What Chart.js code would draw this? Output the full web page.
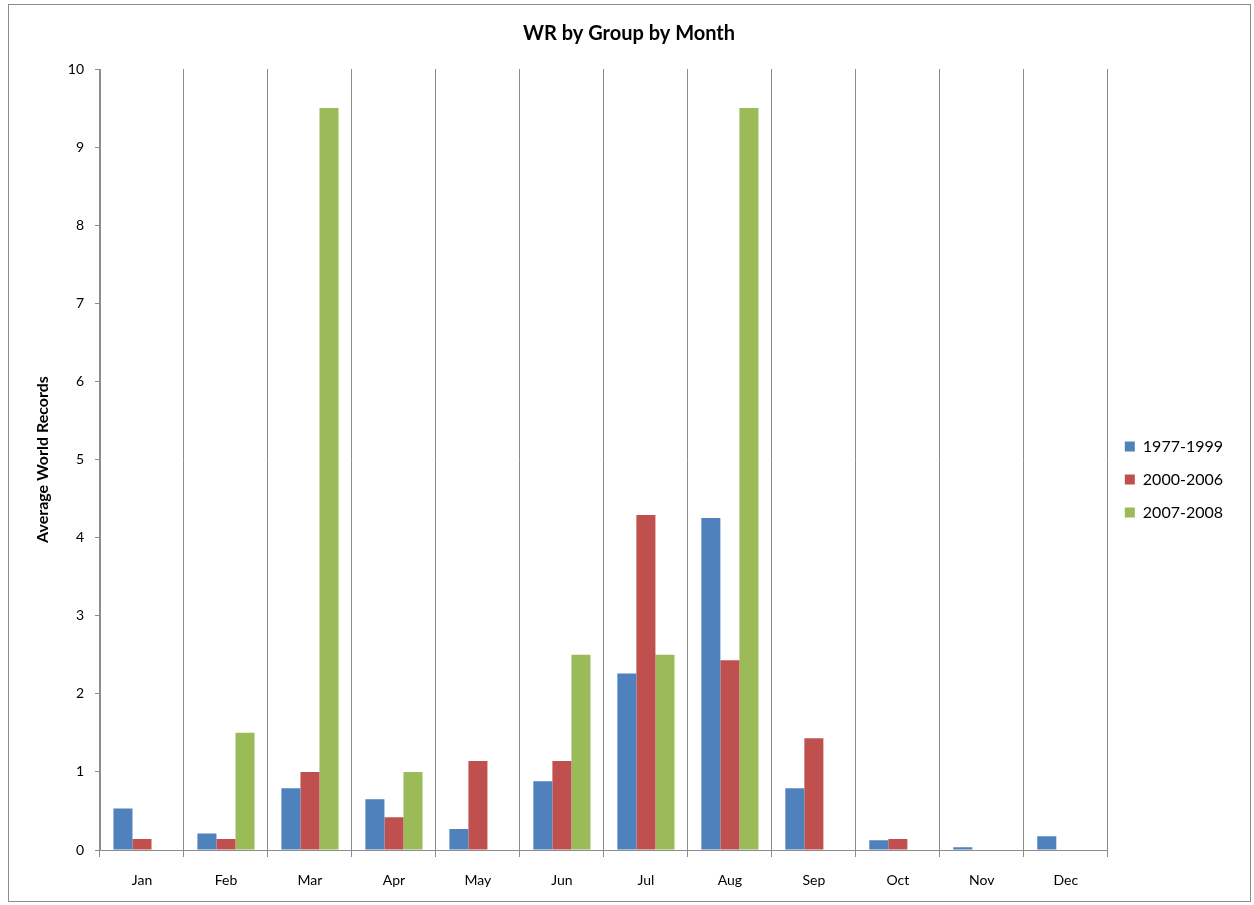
<!DOCTYPE html>
<html>
<head>
<meta charset="utf-8">
<script src="https://cdn.jsdelivr.net/npm/chart.js@4"></script>
<style>
  html, body { margin: 0; padding: 0; background: #fff; }
  #wrap { width: 1254px; height: 905px; }
</style>
</head>
<body>
<div id="wrap"><canvas id="wrChart" width="1254" height="905"></canvas></div>
<script>
// Données
const months = ['Jan', 'Feb', 'Mar', 'Apr', 'May', 'Jun', 'Jul', 'Aug', 'Sep', 'Oct', 'Nov', 'Dec'];
const group1977 = [0.53, 0.21, 0.79, 0.65, 0.27, 0.88, 2.26, 4.25, 0.79, 0.125, 0.035, 0.175];
const group2000 = [0.14, 0.14, 1.0, 0.42, 1.14, 1.14, 4.29, 2.43, 1.43, 0.14, 0, 0];
const group2007 = [0, 1.5, 9.5, 1.0, 0, 2.5, 2.5, 9.5, 0, 0, 0, 0];
const seriesLabels = ['1977-1999', '2000-2006', '2007-2008'];
const seriesColors = ['#4F81BD', '#C0504D', '#9BBB59'];

const FONT = 'Lato, "Noto Sans", sans-serif';

// cadre gris autour du graphique
const framePlugin = {
    id: 'frame',
    beforeDraw(chart) {
        const c = chart.ctx;
        c.save();
        c.fillStyle = '#fff';
        c.fillRect(0, 0, chart.width, chart.height);
        c.strokeStyle = '#8c8c8c';
        c.lineWidth = 1;
        c.strokeRect(8.5, 4.5, 1242, 897);
        c.restore();
    }
};

new Chart(document.getElementById('wrChart'), {
    type: 'bar',
    data: {
        labels: months,
        datasets: [group1977, group2000, group2007].map((d, i) => ({
            label: seriesLabels[i],
            data: d,
            backgroundColor: seriesColors[i],
            categoryPercentage: 0.68,
            barPercentage: 1.0
        }))
    },
    options: {
        responsive: false,
        animation: false,
        devicePixelRatio: 1,
        layout: { padding: { top: 22, left: 25, right: 21, bottom: 14 } },
        plugins: {
            title: {
                display: true,
                text: 'WR by Group by Month',
                color: '#000',
                font: { family: FONT, size: 20, weight: 'bold' },
                padding: { top: 0, bottom: 23 }
            },
            legend: {
                position: 'right',
                title: {
                    // titre vide pour descendre un peu la légende
                    display: true,
                    text: '',
                    font: { size: 10 },
                    padding: { top: 34, bottom: 0 }
                },
                labels: {
                    color: '#000',
                    font: { family: FONT, size: 16 },
                    boxWidth: 10,
                    boxHeight: 10,
                    padding: 17
                }
            },
            tooltip: { enabled: false }
        },
        scales: {
            x: {
                afterFit(scale) { scale.height = 41; },
                grid: {
                    display: true,
                    offset: true,
                    color: '#8c8c8c',
                    drawTicks: true,
                    tickLength: 7
                },
                border: { color: '#8c8c8c' },
                ticks: {
                    color: '#000',
                    font: { family: FONT, size: 14 },
                    padding: 15
                }
            },
            y: {
                min: 0,
                max: 10,
                afterFit(scale) { scale.width = 75; },
                grid: {
                    drawOnChartArea: false,
                    drawTicks: true,
                    tickLength: 5,
                    color: '#8c8c8c'
                },
                border: { color: '#8c8c8c' },
                ticks: {
                    stepSize: 1,
                    color: '#000',
                    font: { family: FONT, size: 14 },
                    padding: 11
                },
                title: {
                    display: true,
                    text: 'Average World Records',
                    color: '#000',
                    font: { family: FONT, size: 16, weight: 'bold' },
                    padding: { top: 8, bottom: 0 }
                }
            }
        }
    },
    plugins: [framePlugin]
});
</script>
</body>
</html>
